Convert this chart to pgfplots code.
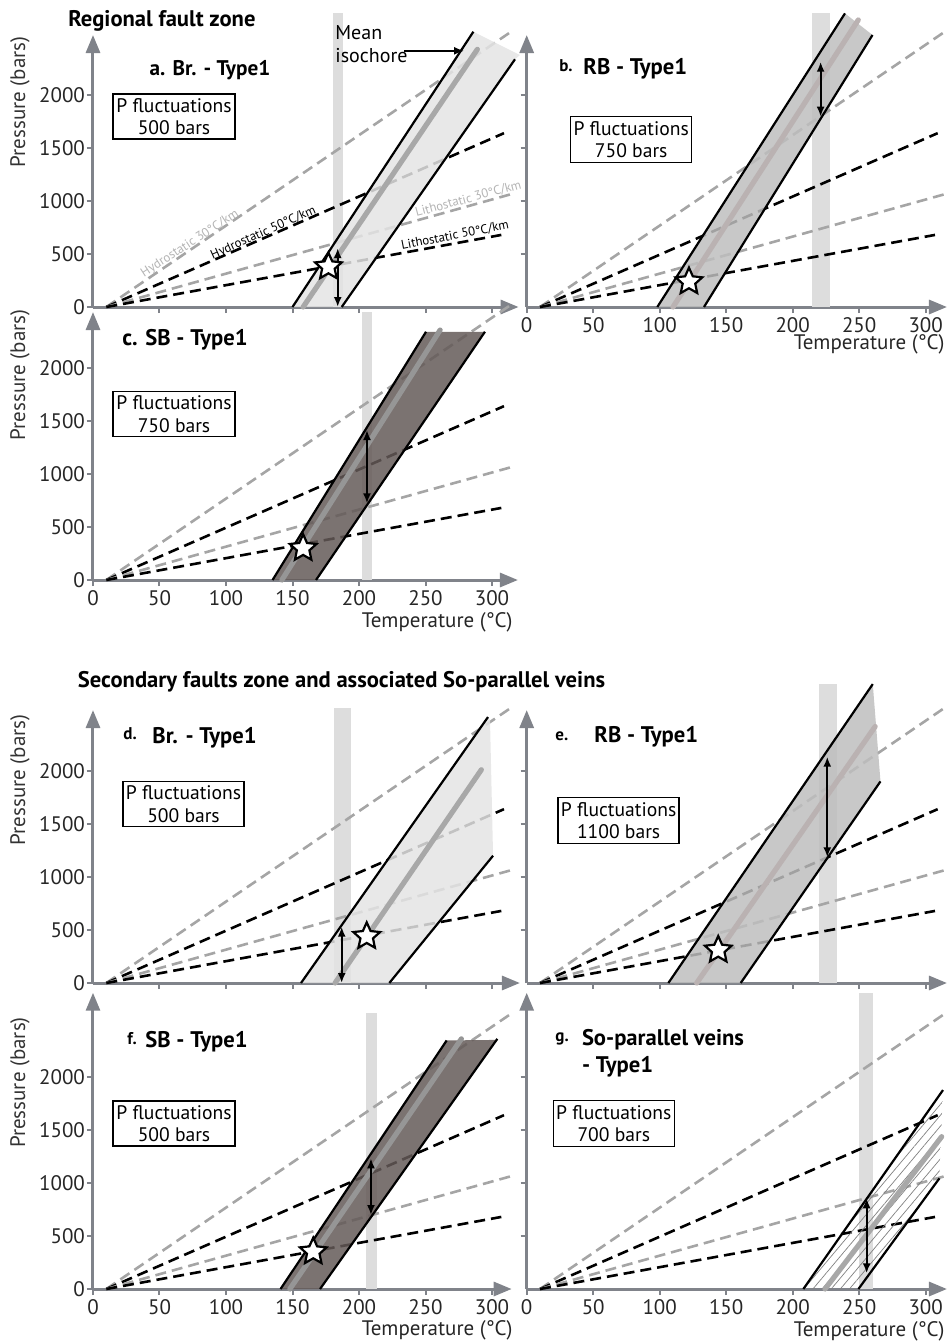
\documentclass[border=0pt]{standalone}
\usepackage{fontspec}
\setmainfont{PT Sans}
\usepackage{pgfplots}
\pgfplotsset{compat=1.18}
\usetikzlibrary{arrows.meta,patterns.meta}

\definecolor{axgray}{RGB}{128,131,138}
\definecolor{geogray}{RGB}{165,165,165}
\definecolor{labgray}{RGB}{180,180,180}
\definecolor{bargray}{RGB}{221,221,221}
\definecolor{fillA}{RGB}{228,228,228}
\definecolor{fillB}{RGB}{190,190,190}
\definecolor{fillC}{RGB}{100,90,88}
\definecolor{meanA}{RGB}{168,168,168}
\definecolor{meanB}{RGB}{186,178,178}
\definecolor{meanC}{RGB}{150,150,150}

\pgfdeclareplotmark{fstar}{%
  \pgfpathmoveto{\pgfqpoint{0pt}{7pt}}%
  \pgfpathlineto{\pgfqpoint{-1.94pt}{2.67pt}}%
  \pgfpathlineto{\pgfqpoint{-6.66pt}{2.16pt}}%
  \pgfpathlineto{\pgfqpoint{-3.14pt}{-1.02pt}}%
  \pgfpathlineto{\pgfqpoint{-4.11pt}{-5.66pt}}%
  \pgfpathlineto{\pgfqpoint{0pt}{-3.3pt}}%
  \pgfpathlineto{\pgfqpoint{4.11pt}{-5.66pt}}%
  \pgfpathlineto{\pgfqpoint{3.14pt}{-1.02pt}}%
  \pgfpathlineto{\pgfqpoint{6.66pt}{2.16pt}}%
  \pgfpathlineto{\pgfqpoint{1.94pt}{2.67pt}}%
  \pgfpathclose
  \pgfusepathqfillstroke}

\pgfplotsset{
  panel/.style={
    x=0.665pt, y=0.053pt,
    xmin=0, ymin=0,
    enlargelimits=false,
    clip=false,
    anchor=south west,
    axis lines=left,
    axis line style={draw=axgray, line width=1.5pt, -{Triangle[length=9pt,width=7pt]}},
    tick align=outside,
    major tick length=3pt,
    tick style={draw=axgray, line width=1pt},
    ticklabel style={font=\fontsize{10.5}{12}\selectfont, text=black!85},
    xticklabel style={yshift=1.5pt},
    yticklabel style={xshift=2.5pt},
    /pgf/number format/assume math mode=true,
    /pgf/number format/1000 sep={},
  },
  xlab/.style={xtick={0,50,...,300}},
  xnolab/.style={xtick={50,100,...,300}, xticklabels={}},
  ylab/.style={ytick={0,500,...,2000}},
  ynolab/.style={ytick={500,1000,...,2000}, yticklabels={}},
  geoG/.style={geogray, line width=1.3pt, dash pattern=on 5.5pt off 3pt},
  geoK/.style={black, line width=1.3pt, dash pattern=on 5.5pt off 3pt},
  bandline/.style={black, line width=1.1pt},
  meanline/.style={line width=2.6pt, line cap=round},
  parr/.style={black, line width=1pt, {Latex[length=5pt,width=4pt]}-{Latex[length=5pt,width=4pt]}},
  starmark/.style={only marks, mark=fstar, mark options={fill=white, draw=black, line width=1.1pt}},
}

\newcommand{\geotherms}{%
  \addplot[geoG] coordinates {(10,0) (314,2594)};
  \addplot[geoK] coordinates {(10,0) (309,1640)};
  \addplot[geoG] coordinates {(10,0) (316,1070)};
  \addplot[geoK] coordinates {(10,0) (307,680)};
}
\newcommand{\bfs}{\fontsize{11.3}{13}\selectfont\bfseries}
\newcommand{\sbf}{\fontsize{8.5}{10}\selectfont\bfseries}
\newcommand{\bxf}{\fontsize{9.8}{11.2}\selectfont}
\newcommand{\lbf}{\fontsize{10.5}{12}\selectfont}
\newcommand{\smf}{\fontsize{6.4}{7}\selectfont}

\begin{document}
\begin{tikzpicture}
\path[use as bounding box] (0,0) rectangle (473.5pt,-671.5pt);

% ---------- a ----------
\begin{axis}[panel, xnolab, ylab, at={(46.5pt,-153.5pt)}, xmax=320, ymax=2566]
\addplot[fill=bargray, draw=none] coordinates {(180.5,0) (188,0) (188,2774) (180.5,2774)} --cycle;
\geotherms
\addplot[fill=fillA, draw=none, fill opacity=0.85] coordinates {(150,0) (286,2597) (321,2377) (317.3,2337) (187,0)} --cycle;
\addplot[bandline] coordinates {(150,0) (286,2597)};
\addplot[bandline] coordinates {(187,0) (317.3,2337)};
\addplot[meanline, meanA] coordinates {(158,0) (289,2431)};
\addplot[parr] coordinates {(184,0) (184,555)};
\addplot[starmark] coordinates {(177,380)};
\end{axis}

% ---------- b ----------
\begin{axis}[panel, xlab, ynolab, at={(263.35pt,-153.5pt)}, xmax=316, ymax=2566]
\addplot[fill=bargray, draw=none] coordinates {(214.5,0) (228,0) (228,2770) (214.5,2770)} --cycle;
\geotherms
\addplot[fill=fillB, draw=none, fill opacity=0.85] coordinates {(98.2,0) (239.3,2770) (260,2566) (133.3,0)} --cycle;
\addplot[bandline] coordinates {(98.2,0) (239.3,2770)};
\addplot[bandline] coordinates {(133.3,0) (260,2566)};
\addplot[meanline, meanB] coordinates {(110,0) (249.3,2708)};
\addplot[parr] coordinates {(221,1795) (221,2314)};
\addplot[starmark] coordinates {(122,239)};
\end{axis}

% ---------- c ----------
\begin{axis}[panel, xlab, ylab, at={(46.5pt,-290pt)}, xmax=319.5, ymax=2528]
\addplot[fill=bargray, draw=none] coordinates {(202,0) (210,0) (210,2528) (202,2528)} --cycle;
\geotherms
\addplot[fill=fillC, draw=none, fill opacity=0.85] coordinates {(135,0) (250.4,2342) (294.7,2342) (167.7,0)} --cycle;
\addplot[bandline] coordinates {(135,0) (250.4,2342)};
\addplot[bandline] coordinates {(167.7,0) (294.7,2342)};
\addplot[meanline, meanC] coordinates {(142,0) (261,2358)};
\addplot[parr] coordinates {(206,723) (206,1415)};
\addplot[starmark] coordinates {(158,299)};
\end{axis}

% ---------- d ----------
\begin{axis}[panel, xnolab, ylab, at={(46.5pt,-491.5pt)}, xmax=321, ymax=2575]
\addplot[fill=bargray, draw=none] coordinates {(181,0) (194,0) (194,2597) (181,2597)} --cycle;
\geotherms
\addplot[fill=fillA, draw=none, fill opacity=0.85] coordinates {(156.4,0) (297,2509) (298.5,2480) (300.8,1201) (222.8,0)} --cycle;
\addplot[bandline] coordinates {(156.4,0) (297,2509)};
\addplot[bandline] coordinates {(222.8,0) (300.8,1201)};
\addplot[meanline, meanA] coordinates {(182,0) (292,2012)};
\addplot[parr] coordinates {(187,0) (187,531)};
\addplot[starmark] coordinates {(205.8,440)};
\end{axis}

% ---------- e ----------
\begin{axis}[panel, xnolab, ynolab, at={(263.35pt,-491.5pt)}, xmax=316, ymax=2575]
\addplot[fill=bargray, draw=none] coordinates {(220,0) (233.5,0) (233.5,2820) (220,2820)} --cycle;
\geotherms
\addplot[fill=fillB, draw=none, fill opacity=0.85] coordinates {(106.5,0) (260.2,2820) (266,1902) (160.9,0)} --cycle;
\addplot[bandline] coordinates {(106.5,0) (260.2,2820)};
\addplot[bandline] coordinates {(160.9,0) (266,1902)};
\addplot[meanline, meanB] coordinates {(127.8,0) (262,2420)};
\addplot[parr] coordinates {(226,1186) (226,2135)};
\addplot[starmark] coordinates {(144,311)};
\end{axis}

% ---------- f ----------
\begin{axis}[panel, xlab, ylab, at={(46.5pt,-644.5pt)}, xmax=314.8, ymax=2795]
\addplot[fill=bargray, draw=none] coordinates {(205,0) (213.5,0) (213.5,2604) (205,2604)} --cycle;
\geotherms
\addplot[fill=fillC, draw=none, fill opacity=0.85] coordinates {(141,0) (265.9,2345) (304,2350) (170.7,0)} --cycle;
\addplot[bandline] coordinates {(141,0) (265.9,2345)};
\addplot[bandline] coordinates {(170.7,0) (304,2360)};
\addplot[meanline, meanC] coordinates {(148,0) (277,2360)};
\addplot[parr] coordinates {(209,698) (209,1233)};
\addplot[starmark] coordinates {(165.6,352)};
\end{axis}

% ---------- g ----------
\begin{axis}[panel, xlab, ynolab, at={(263.35pt,-644.5pt)}, xmax=316, ymax=2795]
\addplot[fill=bargray, draw=none] coordinates {(249.5,0) (260.5,0) (260.5,2792) (249.5,2792)} --cycle;
\geotherms
\addplot[pattern={Lines[angle=50,distance=3.5pt,line width=0.35pt]}, pattern color=gray, draw=none] coordinates {(208,0) (313,1877) (310.3,1044) (249.4,0)} --cycle;
\addplot[bandline] coordinates {(208,0) (313,1877)};
\addplot[bandline] coordinates {(249.4,0) (310.3,1044)};
\addplot[meanline, meanA] coordinates {(224.3,0) (312,1437)};
\addplot[parr] coordinates {(255.6,148) (255.6,856)};
\end{axis}

% ---------- texts ----------
\node[anchor=west, font=\bfs, inner sep=0pt] at (34pt,-10.3pt) {Regional fault zone};
\node[anchor=west, font=\bfs, inner sep=0pt] at (38.7pt,-341pt) {Secondary faults zone and associated So-parallel veins};

% a
\node[font=\fontsize{10.6}{12}\selectfont\bfseries] at (105pt,-35pt) {a. Br. - Type1};
\node[draw=black, line width=0.7pt, minimum width=61pt, minimum height=22.5pt, align=center, inner sep=1pt, font=\bxf] at (87pt,-58.25pt) {P fluctuations\\500 bars};
\node[anchor=west, align=left, font=\fontsize{10}{11.5}\selectfont, inner sep=0pt] at (167.5pt,-22.25pt) {Mean\\isochore};
\draw[black, line width=0.8pt, -{Latex[length=5pt,width=4pt]}] (202pt,-25.4pt) -- (232pt,-25.4pt);
\node[rotate=33, text=labgray, font=\smf, inner sep=0pt] at (95pt,-122pt) {Hydrostatic 30°C/km};
\node[rotate=24, text=black, font=\smf, inner sep=0pt] at (131.7pt,-116.5pt) {Hydrostatic 50°C/km};
\node[rotate=15, text=labgray, font=\smf, inner sep=0pt] at (234.2pt,-99.5pt) {Lithostatic 30°C/km};
\node[rotate=11, text=black, font=\smf, inner sep=0pt] at (227.5pt,-117.8pt) {Lithostatic 50°C/km};

% b
\node[anchor=west, font=\sbf, inner sep=0pt] at (279.5pt,-33pt) {b.};
\node[anchor=west, font=\bfs, inner sep=0pt] at (291.5pt,-34.5pt) {RB - Type1};
\node[draw=black, line width=0.7pt, minimum width=60.5pt, minimum height=22.8pt, align=center, inner sep=1pt, font=\bxf] at (315.6pt,-69.75pt) {P fluctuations\\750 bars};

% c
\node[font=\bfs] at (92.5pt,-170pt) {c. SB - Type1};
\node[draw=black, line width=0.7pt, minimum width=61pt, minimum height=22.5pt, align=center, inner sep=1pt, font=\bxf] at (87pt,-207pt) {P fluctuations\\750 bars};

% d
\node[anchor=west, font=\sbf, inner sep=0pt] at (61.5pt,-367pt) {d.};
\node[anchor=west, font=\bfs, inner sep=0pt] at (76pt,-369pt) {Br. - Type1};
\node[draw=black, line width=0.7pt, minimum width=60.5pt, minimum height=22.5pt, align=center, inner sep=1pt, font=\bxf] at (91.75pt,-402.1pt) {P fluctuations\\500 bars};

% e
\node[anchor=west, font=\sbf, inner sep=0pt] at (277.5pt,-368pt) {e.};
\node[anchor=west, font=\bfs, inner sep=0pt] at (297pt,-368.5pt) {RB - Type1};
\node[draw=black, line width=0.7pt, minimum width=60.5pt, minimum height=23pt, align=center, inner sep=1pt, font=\bxf] at (309.3pt,-410.2pt) {P fluctuations\\1100 bars};

% f
\node[anchor=west, font=\sbf, inner sep=0pt] at (63.5pt,-519.5pt) {f.};
\node[anchor=west, font=\bfs, inner sep=0pt] at (72.5pt,-521pt) {SB - Type1};
\node[draw=black, line width=0.7pt, minimum width=61pt, minimum height=22.5pt, align=center, inner sep=1pt, font=\bxf] at (87pt,-561.75pt) {P fluctuations\\500 bars};

% g
\node[anchor=west, font=\sbf, inner sep=0pt] at (277.5pt,-519.5pt) {g.};
\node[anchor=west, font=\bfs, inner sep=0pt] at (290.8pt,-520pt) {So-parallel veins};
\node[anchor=west, font=\bfs, inner sep=0pt] at (290.8pt,-533.5pt) {- Type1};
\node[draw=black, line width=0.7pt, minimum width=60.5pt, minimum height=22.8pt, align=center, inner sep=1pt, font=\bxf] at (306.9pt,-561.7pt) {P fluctuations\\700 bars};

% axis labels
\foreach \yy in {-51,-187.5,-390,-541.25}{
  \node[rotate=90, font=\lbf, text=black!80] at (10pt,\yy pt) {Pressure (bars)};
}
\node[anchor=east, font=\lbf, text=black!85, inner sep=0pt] at (472.5pt,-172pt) {Temperature (°C)};
\node[anchor=east, font=\lbf, text=black!85, inner sep=0pt] at (256.5pt,-311pt) {Temperature (°C)};
\node[anchor=east, font=\lbf, text=black!85, inner sep=0pt] at (256.5pt,-665pt) {Temperature (°C)};
\node[anchor=east, font=\lbf, text=black!85, inner sep=0pt] at (472.5pt,-665.8pt) {Temperature (°C)};
\end{tikzpicture}
\end{document}
